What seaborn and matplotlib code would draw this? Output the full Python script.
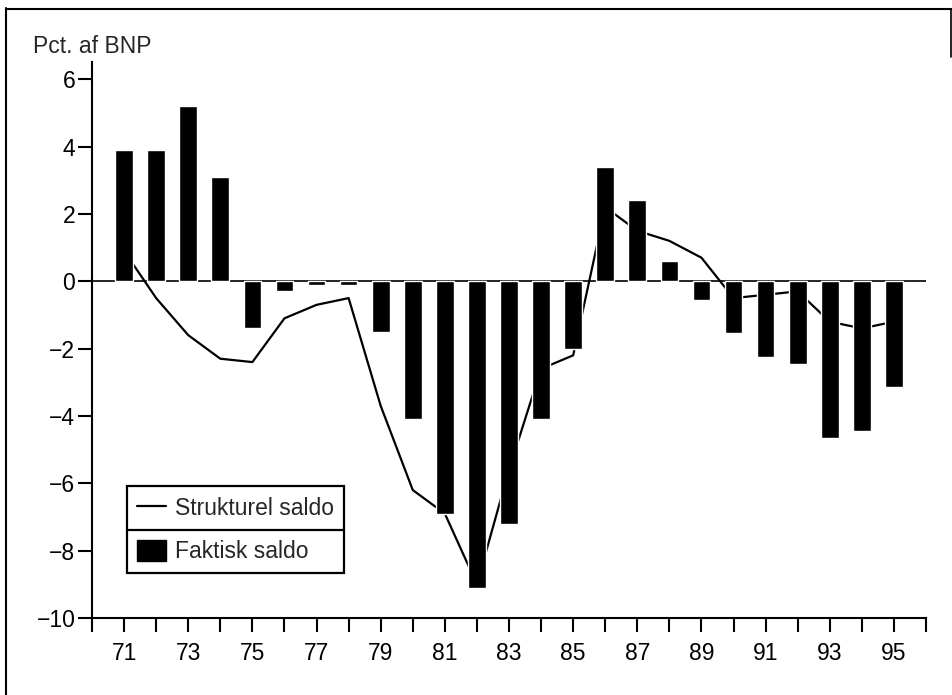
import numpy as np
import pandas as pd
import matplotlib
matplotlib.use("Agg")
import matplotlib.pyplot as plt
import seaborn as sns
from matplotlib.lines import Line2D
from matplotlib.patches import Patch
from matplotlib.ticker import FixedLocator

years = list(range(71, 96))
faktisk = [3.9, 3.9, 5.2, 3.1, -1.4, -0.3, -0.1, -0.1, -1.5, -4.1, -6.9, -9.1, -7.2,
           -4.1, -2.0, 3.4, 2.4, 0.6, -0.55, -1.55, -2.25, -2.45, -4.65, -4.45, -3.15]
strukturel = [0.9, -0.5, -1.6, -2.3, -2.4, -1.1, -0.7, -0.5, -3.7, -6.2, -6.9, -9.0, -5.6,
              -2.6, -2.2, 2.2, 1.5, 1.2, 0.7, -0.5, -0.4, -0.3, -1.2, -1.4, -1.2]
ytick_vals = [-10, -8, -6, -4, -2, 0, 2, 4, 6]
xtick_labels = [str(y) for y in range(71, 96, 2)]

df = pd.DataFrame({"year": years, "faktisk": faktisk, "strukturel": strukturel})

sns.set_theme(style="white")
plt.rcParams["font.family"] = ["Liberation Sans", "DejaVu Sans"]

FS = 16.5
W, H = 953, 695
fig = plt.figure(figsize=(W / 100, H / 100), dpi=100)
ax_left, ax_right = 92 / W, 926 / W
ax_bottom = (H - 618) / H
ax_top = (H - 62.4) / H
ax = fig.add_axes([ax_left, ax_bottom, ax_right - ax_left, ax_top - ax_bottom])

sns.lineplot(data=df, x="year", y="strukturel", color="black", linewidth=1.6, ax=ax, zorder=2)
sns.barplot(data=df, x="year", y="faktisk", native_scale=True, width=0.55, color="black",
            saturation=1, ax=ax, zorder=3)
ax.axhline(0, color="black", linewidth=1.2, zorder=1)

ax.set_xlim(70, 96)
ax.set_ylim(-10, 6.5)
ax.set_xlabel("")
ax.set_ylabel("")

ax.xaxis.set_major_locator(FixedLocator(list(range(71, 96, 2))))
ax.set_xticklabels(xtick_labels)
ax.xaxis.set_minor_locator(FixedLocator(list(range(70, 97))))
ax.set_yticks(ytick_vals)
ax.set_yticklabels([str(v).replace("-", "\u2212") for v in ytick_vals])

for s in ["top", "right"]:
    ax.spines[s].set_visible(False)
for s in ["left", "bottom"]:
    ax.spines[s].set_color("black")
    ax.spines[s].set_linewidth(1.5)

ax.tick_params(axis="x", which="both", direction="out", length=10, width=1.5,
               colors="black", labelsize=FS, pad=7, bottom=True)
ax.tick_params(axis="y", which="major", direction="out", length=10, width=1.5,
               colors="black", labelsize=FS, pad=2, left=True)
ax.grid(False)

handles = [Line2D([0], [0], color="black", linewidth=1.6),
           Patch(facecolor="black", edgecolor="black")]
leg = ax.legend(handles, ["Strukturel saldo", "Faktisk saldo"], loc="lower left",
                bbox_to_anchor=(0.0416, 0.0805), borderaxespad=0, fontsize=FS,
                frameon=True, fancybox=False, shadow=False, handlelength=1.25,
                handleheight=1.05, handletextpad=0.4, labelspacing=0.85,
                borderpad=0.45)
frame = leg.get_frame()
frame.set_edgecolor("black")
frame.set_linewidth(1.6)
frame.set_facecolor("white")
frame.set_alpha(1)

fig.canvas.draw()
bb = leg.get_window_extent()
ymid = (bb.y0 + bb.y1) / 2
fig.add_artist(Line2D([bb.x0 / W, bb.x1 / W], [ymid / H, ymid / H], color="black",
                      linewidth=1.6, transform=fig.transFigure, zorder=10))

fig.text(33 / W, 1 - 53 / H, "Pct. af BNP", fontsize=FS, va="baseline", ha="left")

# page frame
fig.add_artist(Line2D([6 / W, 6 / W], [0, 1 - 8 / H], color="black", linewidth=1.5,
                      transform=fig.transFigure))
fig.add_artist(Line2D([6 / W, 1], [1 - 9 / H, 1 - 9 / H], color="black", linewidth=1.5,
                      transform=fig.transFigure))
fig.add_artist(Line2D([951.5 / W, 951.5 / W], [1 - 9 / H, 1 - 57 / H], color="black",
                      linewidth=1.2, transform=fig.transFigure))

fig.savefig("out.png", dpi=100, facecolor="white")
